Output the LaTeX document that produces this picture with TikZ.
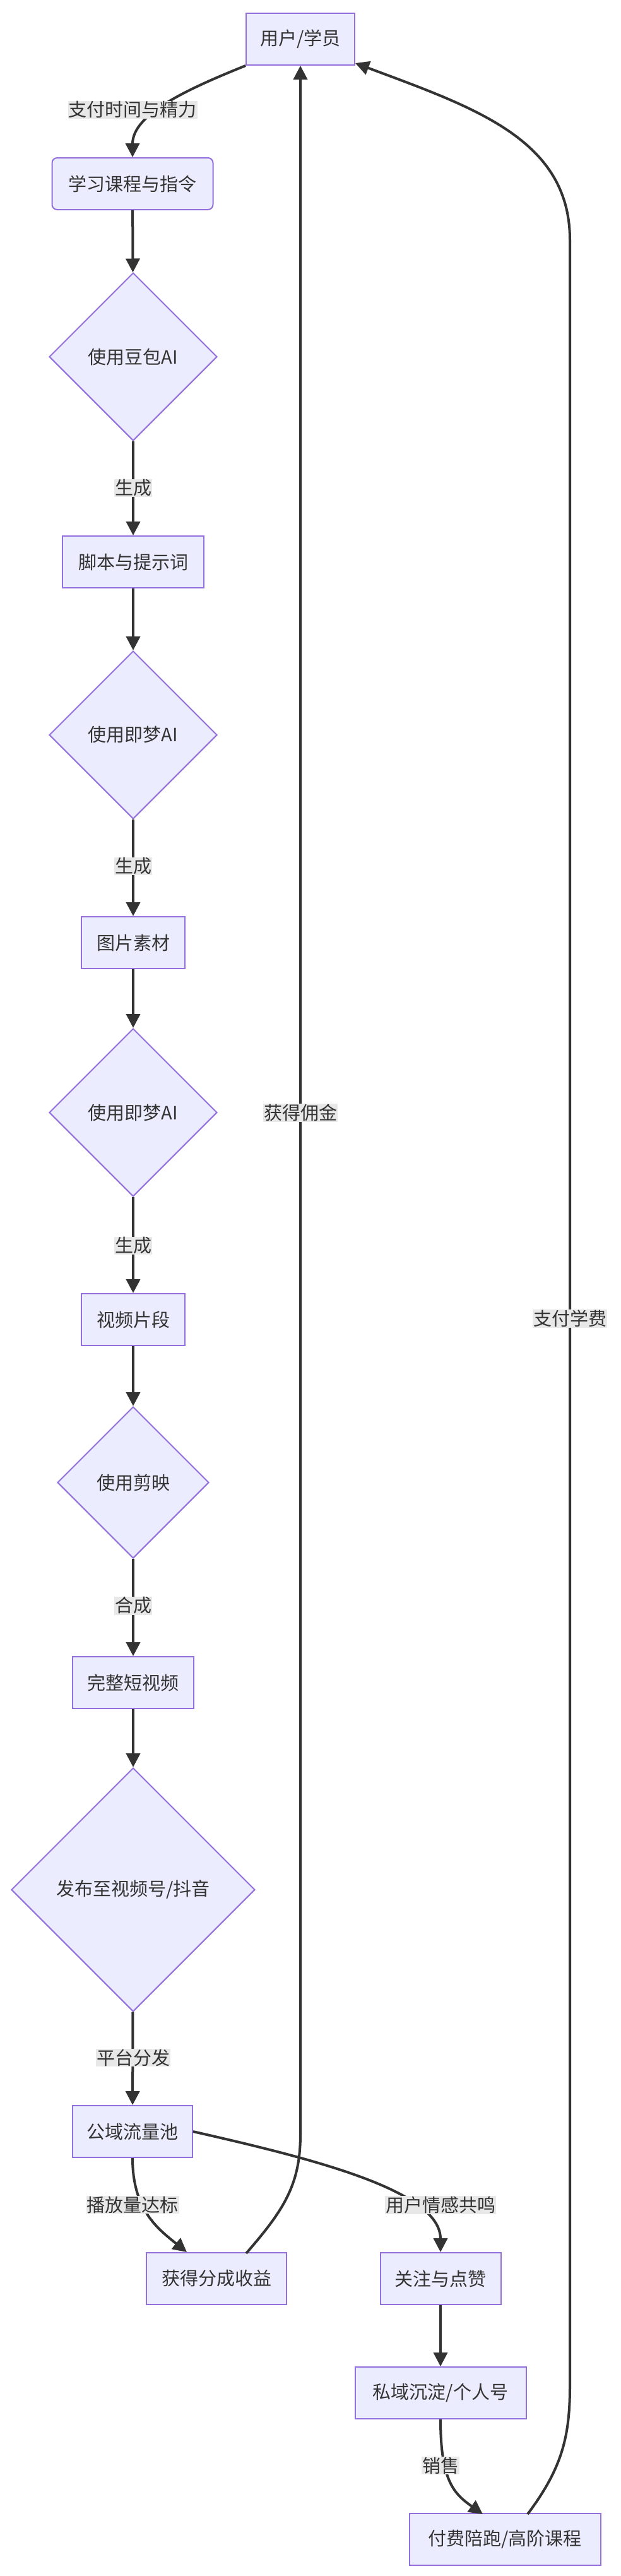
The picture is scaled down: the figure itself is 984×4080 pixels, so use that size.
\documentclass[tikz,border=0pt]{standalone}
\usepackage{fontspec}
\setmainfont{Noto Sans CJK SC}
\usetikzlibrary{shapes.geometric,arrows.meta}
\definecolor{nfill}{HTML}{ECECFF}
\definecolor{nline}{HTML}{9370DB}
\definecolor{edge}{HTML}{333333}
\definecolor{lbl}{HTML}{E8E8E8}
\begin{document}
\begin{tikzpicture}[x=1pt,y=-1pt,
  box/.style={draw=nline,fill=nfill,line width=2pt,font=\fontsize{29}{32}\selectfont,text=edge,inner sep=0pt,minimum height=82pt},
  dia/.style={draw=nline,fill=nfill,line width=2pt,font=\fontsize{29}{32}\selectfont,text=edge,diamond,inner sep=0pt,aspect=1},
  lab/.style={fill=lbl,font=\fontsize{29}{32}\selectfont,text=edge,inner sep=1pt},
  ar/.style={draw=edge,line width=4pt,-{Triangle[length=22pt,width=22pt]}},
  ln/.style={draw=edge,line width=4pt}]
\useasboundingbox (0,0) rectangle (984,4080);
\node[box,minimum width=172pt] (u) at (476,62) {用户/学员};
\node[box,minimum width=255pt,rounded corners=8pt] (l) at (210,291) {学习课程与指令};
\node[dia,minimum width=266pt,minimum height=266pt] (d1) at (211,565) {使用豆包AI};
\node[box,minimum width=224pt] (s) at (211,890) {脚本与提示词};
\node[dia,minimum width=266pt,minimum height=266pt] (d2) at (211,1164) {使用即梦AI};
\node[box,minimum width=164pt] (p) at (211,1493) {图片素材};
\node[dia,minimum width=266pt,minimum height=266pt] (d3) at (211,1762) {使用即梦AI};
\node[box,minimum width=164pt] (v) at (211,2090) {视频片段};
\node[dia,minimum width=240pt,minimum height=240pt] (d4) at (211,2348) {使用剪映};
\node[box,minimum width=192pt] (c) at (211,2665) {完整短视频};
\node[dia,minimum width=386pt,minimum height=386pt] (d5) at (211,2993) {发布至视频号/抖音};
\node[box,minimum width=190pt] (g) at (210,3376) {公域流量池};
\node[box,minimum width=222pt] (r) at (343,3609) {获得分成收益};
\node[box,minimum width=191pt] (f) at (698,3609) {关注与点赞};
\node[box,minimum width=271pt] (pr) at (698,3790) {私域沉淀/个人号};
\node[box,minimum width=303pt] (pay) at (800,4022) {付费陪跑/高阶课程};
% edges
\draw[ar] (u.south west) .. controls (300,140) and (210,180) .. (l.north);
\node[lab] (t0) at (210,174) {支付时间与精力};
\draw[ar] (l) -- (d1);
\draw[ar] (d1) -- (s);
\node[lab] (t1) at (211,773) {生成};
\draw[ar] (s) -- (d2);
\draw[ar] (d2) -- (p);
\node[lab] (t2) at (211,1372) {生成};
\draw[ar] (p) -- (d3);
\draw[ar] (d3) -- (v);
\node[lab] (t3) at (211,1973) {生成};
\draw[ar] (v) -- (d4);
\draw[ar] (d4) -- (c);
\node[lab] (t4) at (211,2543) {合成};
\draw[ar] (c) -- (d5);
\draw[ar] (d5) -- (g);
\node[lab] (t5) at (211,3259) {平台分发};
\draw[ar] (g.south) .. controls (210,3500) and (250,3530) .. (r.north west-|296,0);
\coordinate (rn) at (296,3569);
\node[lab] (t6) at (210,3492) {播放量达标};
\draw[ar] (g.east) .. controls (500,3420) and (698,3470) .. (f.north);
\node[lab] (t7) at (698,3492) {用户情感共鸣};
\draw[ar] (f) -- (pr);
\draw[ar] (pr.south) .. controls (698,3930) and (720,3950) .. (765,3982);
\node[lab] (t8) at (698,3905) {销售};
\coordinate (rt) at (390,3569);
\draw[ar] (rt) .. controls (450,3500) and (476,3460) .. (476,3380) -- (u.south);
\node[lab] (t9) at (476,1762) {获得佣金};
\coordinate (pt) at (836,3982);
\draw[ar] (pt) .. controls (890,3910) and (903,3860) .. (903,3780) -- (903,380) .. controls (903,220) and (750,170) .. (u.east|-0,100);
\node[lab] (t10) at (903,2088) {支付学费};
\end{tikzpicture}
\end{document}
